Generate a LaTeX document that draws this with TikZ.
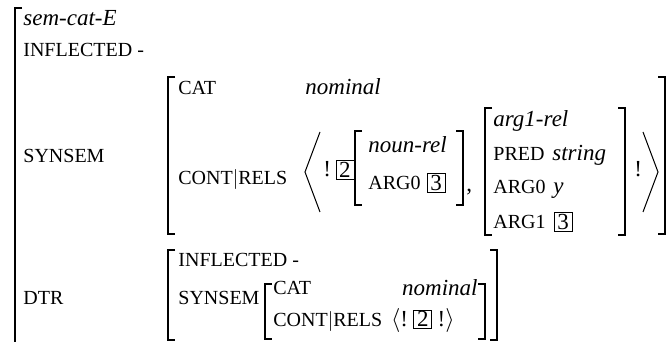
\documentclass[tikz,border=0pt]{standalone}
\usepackage{fontspec}
\setmainfont{Liberation Serif}
\usepackage{tikz}
\usetikzlibrary{positioning}

\begin{document}
\begin{tikzpicture}[
    x=0.5pt, y=-0.5pt,
    feat/.style={anchor=base west, inner sep=0pt, font=\fontsize{10}{12}\selectfont},
    val/.style={anchor=base west, inner sep=0pt, font=\fontsize{11.5}{13}\selectfont\itshape},
    plain/.style={anchor=base west, inner sep=0pt, font=\fontsize{11.5}{13}\selectfont},
    tag/.style={draw, line width=0.4pt, inner sep=0pt, minimum width=9pt, minimum height=9.4pt, font=\fontsize{11.5}{13}\selectfont},
    brk/.style={line width=0.9pt},
    ang/.style={line width=0.5pt}
]
    \useasboundingbox (0,0) rectangle (671,342);

    \draw[brk] (22,8) -- (15,8) -- (15,342);
    \node[val] (type) at (23,26) {sem-cat-E};
    \node[feat] (infl) at (23,57) {INFLECTED -};
    \node[feat] (synsem) at (23,163) {SYNSEM};
    \node[feat] (dtr) at (23,305) {DTR};

    \draw[brk] (175,77) -- (168,77) -- (168,234) -- (175,234);
    \draw[brk] (658,77) -- (665,77) -- (665,234) -- (658,234);
    \node[feat] (cat) at (178,95) {CAT};
    \node[val] (nominal) at (305,95) {nominal};
    \node[feat] (rels) at (178,185) {CONT$|$RELS};
    \draw[ang] (320,132) -- (305,172) -- (320,212);
    \node[plain] (bang1) at (323,177) {!};
    \node[tag] (tagtwo) at (345,170) {2};

    \draw[brk] (362,131) -- (355,131) -- (355,205) -- (362,205);
    \node[val] (nounrel) at (368,153) {noun-rel};
    \node[feat] (nargzero) at (368,190) {ARG0};
    \node[tag] (tagthree) at (436,183) {3};
    \draw[brk] (456,131) -- (463,131) -- (463,205) -- (456,205);
    \node[plain] (comma) at (466,192) {,};

    \draw[brk] (492,108) -- (485,108) -- (485,235) -- (492,235);
    \node[val] (argrel) at (493,127) {arg1-rel};
    \node[feat] (pred) at (493,161) {PRED};
    \node[val] (string) at (552,161) {string};
    \node[feat] (aargzero) at (493,194) {ARG0};
    \node[val] (yvar) at (553,194) {y};
    \node[feat] (aargone) at (493,229) {ARG1};
    \node[tag] (tagthreeb) at (563,222) {3};
    \draw[brk] (618,108) -- (625,108) -- (625,235) -- (618,235);
    \node[plain] (bang2) at (634,177) {!};
    \draw[ang] (643,132) -- (658,172) -- (643,212);

    \draw[brk] (175,250) -- (168,250) -- (168,340) -- (175,340);
    \node[feat] (dinfl) at (178,267) {INFLECTED -};
    \node[feat] (dsynsem) at (178,305) {SYNSEM};
    \draw[brk] (272,284) -- (265,284) -- (265,339) -- (272,339);
    \node[feat] (dcat) at (273,295) {CAT};
    \node[val, anchor=base east] (dnominal) at (478,296) {nominal};
    \node[feat] (drels) at (273,327) {CONT$|$RELS};
    \node[plain, base right=4pt of drels] (dopen) {$\langle$!};
    \node[tag, base right=2.5pt of dopen] (dtagtwo) {2};
    \node[plain, base right=2.5pt of dtagtwo] (dclose) {!$\rangle$};
    \draw[brk] (478,284) -- (485,284) -- (485,339) -- (478,339);
    \draw[brk] (490,250) -- (497,250) -- (497,340) -- (490,340);
\end{tikzpicture}
\end{document}
